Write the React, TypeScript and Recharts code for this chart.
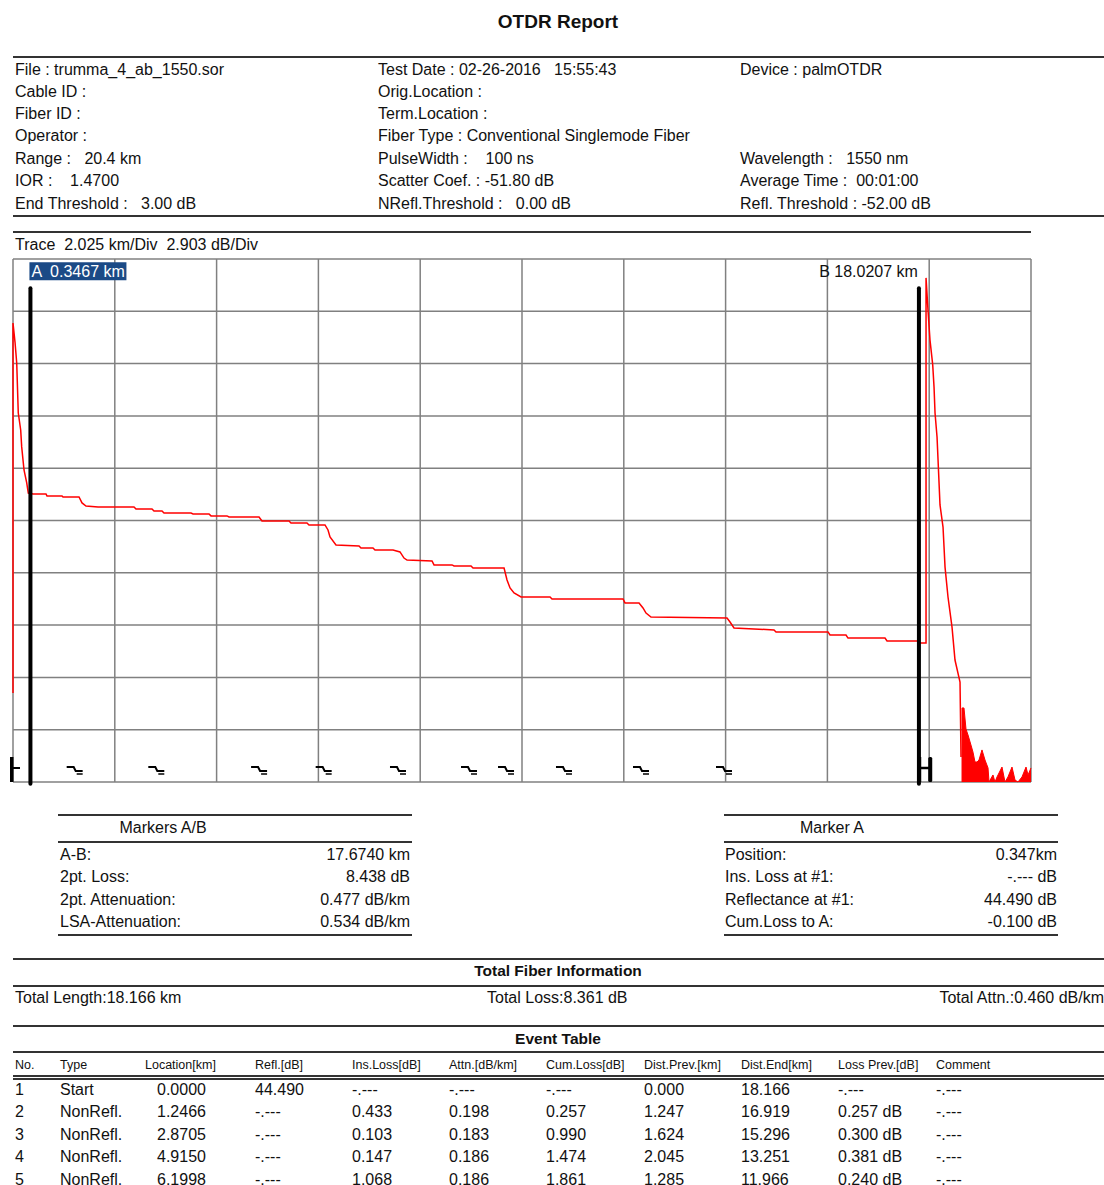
import React from 'react';
import { Area, CartesianGrid, ComposedChart, Line, ReferenceLine, Scatter, XAxis, YAxis } from 'recharts';

const FONT = '"Liberation Sans", Arial, sans-serif';

// trace: [km, dB] (2.025 km/div, 2.903 dB/div, 10 x 10 divisions)
const TRACE: [number, number][] = [
  [0, 4.94], [0, 25.48], [0.04, 24.42], [0.074, 23.26], [0.105, 20.48], [0.153, 19.54], [0.173, 18.6],
  [0.219, 17.32], [0.273, 16.6], [0.304, 16.04], [0.398, 15.99], [0.656, 15.99], [0.676, 15.88],
  [0.975, 15.88], [0.995, 15.82], [1.313, 15.82], [1.373, 15.49], [1.452, 15.32], [1.691, 15.26],
  [2.407, 15.26], [2.447, 15.15], [2.765, 15.15], [2.805, 15.04], [2.964, 15.04], [3.004, 14.93],
  [3.541, 14.93], [3.581, 14.88], [3.899, 14.88], [3.939, 14.77], [4.257, 14.77], [4.297, 14.71],
  [4.894, 14.71], [4.953, 14.49], [5.49, 14.49], [5.53, 14.38], [5.848, 14.38], [5.888, 14.27],
  [6.206, 14.27], [6.266, 13.99], [6.306, 13.6], [6.425, 13.16], [6.883, 13.1], [6.922, 12.99],
  [7.161, 12.99], [7.201, 12.88], [7.559, 12.88], [7.698, 12.77], [7.778, 12.43], [7.838, 12.32],
  [8.335, 12.27], [8.375, 12.05], [8.733, 12.05], [8.773, 11.99], [9.111, 11.99], [9.151, 11.88],
  [9.768, 11.88], [9.827, 11.21], [9.887, 10.77], [9.967, 10.49], [10.106, 10.27], [10.683, 10.27],
  [10.722, 10.16], [12.135, 10.16], [12.174, 9.94], [12.453, 9.94], [12.532, 9.66], [12.592, 9.38],
  [12.691, 9.16], [14.203, 9.1], [14.263, 8.88], [14.342, 8.55], [15.138, 8.44], [15.178, 8.33],
  [16.212, 8.33], [16.252, 8.16], [16.57, 8.16], [16.61, 7.99], [17.346, 7.99], [17.386, 7.83],
  [18.003, 7.83], [18.042, 7.72], [18.162, 7.72], [18.162, 27.98], [18.201, 26.2], [18.241, 24.53],
  [18.295, 23.15], [18.321, 21.93], [18.341, 20.48], [18.381, 19.15], [18.401, 17.87], [18.44, 15.38],
  [18.5, 14.15], [18.52, 13.04], [18.54, 11.93], [18.599, 10.27], [18.679, 8.6], [18.738, 6.77],
  [18.838, 5.55], [18.858, 1.39],
];

// noise floor after the fiber end
const NOISE: [number, number][] = [
  [18.878, 0], [18.878, 4.11], [18.917, 4.11], [18.957, 2.94], [18.997, 2.61], [19.056, 2.05],
  [19.096, 1.66], [19.136, 1.11], [19.176, 1.11], [19.215, 1.22], [19.275, 1.78], [19.335, 1.22],
  [19.395, 0.78], [19.415, 0], [19.494, 0.39], [19.534, 0], [19.574, 0.28], [19.673, 0.83],
  [19.733, 0], [19.792, 0.28], [19.872, 0.83], [19.932, 0.11], [19.991, 0], [20.071, 0.28],
  [20.151, 0.83], [20.191, 0.39], [20.25, 0.78],
];

const EVENT_KM = [0, 1.2466, 2.8705, 4.915, 6.1998, 7.678, 9.091, 9.827, 10.98, 12.512, 14.163, 18.166];
const EVENT_KIND = ['start', 'step', 'step', 'step', 'step', 'step', 'step', 'step', 'step', 'step', 'step', 'end'];

const MARKER_NAME = ['A', 'B'];
const MARKER_KM = [0.3467, 18.0207];
const MARKER_TEXT = ['A  0.3467 km', 'B 18.0207 km'];

const X_TICKS = [0, 2.025, 4.05, 6.075, 8.1, 10.125, 12.15, 14.175, 16.2, 18.225, 20.25];
const Y_TICKS = [0, 2.903, 5.806, 8.709, 11.612, 14.515, 17.418, 20.321, 23.224, 26.127, 29.03];

const INFO_ROWS = [
  ['File : trumma_4_ab_1550.sor', 'Test Date : 02-26-2016   15:55:43', 'Device : palmOTDR'],
  ['Cable ID :', 'Orig.Location :', ''],
  ['Fiber ID :', 'Term.Location :', ''],
  ['Operator :', 'Fiber Type : Conventional Singlemode Fiber', ''],
  ['Range :   20.4 km', 'PulseWidth :    100 ns', 'Wavelength :   1550 nm'],
  ['IOR :    1.4700', 'Scatter Coef. : -51.80 dB', 'Average Time :  00:01:00'],
  ['End Threshold :   3.00 dB', 'NRefl.Threshold :   0.00 dB', 'Refl. Threshold : -52.00 dB'],
];
const INFO_Y = [70, 92, 114, 136, 159, 181, 204];

const MARKERS_AB = [
  ['A-B:', '17.6740 km'],
  ['2pt. Loss:', '8.438 dB'],
  ['2pt. Attenuation:', '0.477 dB/km'],
  ['LSA-Attenuation:', '0.534 dB/km'],
];
const MARKER_A = [
  ['Position:', '0.347km'],
  ['Ins. Loss at #1:', '-.--- dB'],
  ['Reflectance at #1:', '44.490 dB'],
  ['Cum.Loss to A:', '-0.100 dB'],
];
const TABLE_Y = [855, 877, 900, 922];

const EVENT_HEAD = ['No.', 'Type', 'Location[km]', 'Refl.[dB]', 'Ins.Loss[dB]', 'Attn.[dB/km]', 'Cum.Loss[dB]', 'Dist.Prev.[km]', 'Dist.End[km]', 'Loss Prev.[dB]', 'Comment'];
const EVENT_HEAD_X = [15, 60, 145, 255, 352, 449, 546, 644, 741, 838, 936];
const EVENT_COL_X = [15, 60, 157, 255, 352, 449, 546, 644, 741, 838, 936];
const EVENT_ROWS = [
  ['1', 'Start', '0.0000', '44.490', '-.---', '-.---', '-.---', '0.000', '18.166', '-.---', '-.---'],
  ['2', 'NonRefl.', '1.2466', '-.---', '0.433', '0.198', '0.257', '1.247', '16.919', '0.257 dB', '-.---'],
  ['3', 'NonRefl.', '2.8705', '-.---', '0.103', '0.183', '0.990', '1.624', '15.296', '0.300 dB', '-.---'],
  ['4', 'NonRefl.', '4.9150', '-.---', '0.147', '0.186', '1.474', '2.045', '13.251', '0.381 dB', '-.---'],
  ['5', 'NonRefl.', '6.1998', '-.---', '1.068', '0.186', '1.861', '1.285', '11.966', '0.240 dB', '-.---'],
];
const EVENT_ROW_Y = [1090, 1112, 1135, 1157, 1180];

const traceData = TRACE.map(([km, db]) => ({ km, db }));
const noiseData = NOISE.map(([km, db]) => ({ km, db }));
const eventData = EVENT_KM.map((km, i) => ({ km, db: 0, kind: EVENT_KIND[i] }));
const markerData = MARKER_KM.map((km, i) => ({ km, db: 28.35, name: MARKER_NAME[i], text: MARKER_TEXT[i] }));

function Txt({ x, y, children, size = 16, bold = false, align = 'left' }: any) {
  const style: React.CSSProperties = {
    position: 'absolute',
    top: y - size * 0.62,
    fontSize: size,
    lineHeight: `${Math.round(size * 1.24)}px`,
    fontWeight: bold ? 'bold' : 'normal',
    whiteSpace: 'pre',
    color: '#111',
  };
  if (align === 'right') style.right = 1104 - x;
  else if (align === 'center') {
    style.left = x - 300;
    style.width = 600;
    style.textAlign = 'center';
  } else style.left = x;
  return <div style={style}>{children}</div>;
}

function HLine({ x1, x2, y, h = 1.5, color = '#333' }: any) {
  return <div style={{ position: 'absolute', left: x1, top: y - h / 2, width: x2 - x1, height: h, background: color }} />;
}

function EventShape(props: any) {
  const { cx, cy, payload } = props;
  if (payload.kind === 'start') {
    return (
      <g>
        <rect x={cx - 3} y={cy - 25} width={3.5} height={25} fill="#000" />
        <line x1={cx} x2={cx + 7} y1={cy - 14} y2={cy - 14} stroke="#000" strokeWidth={2} />
      </g>
    );
  }
  if (payload.kind === 'end') {
    return (
      <g>
        <rect x={cx - 8} y={cy - 25} width={3} height={25} fill="#000" />
        <rect x={cx + 2} y={cy - 25} width={4} height={25} rx={1.5} fill="#000" />
        <line x1={cx - 6} x2={cx + 3} y1={cy - 14} y2={cy - 14} stroke="#000" strokeWidth={2.5} />
      </g>
    );
  }
  return (
    <g fill="none" stroke="#000">
      <path d={`M${cx - 9},${cy - 15} H${cx - 2} L${cx},${cy - 11} H${cx + 7}`} strokeWidth={2} />
      <path d={`M${cx + 1},${cy - 8} H${cx + 7}`} strokeWidth={1.5} />
    </g>
  );
}

function MarkerLabel(props: any) {
  const { cx, cy, payload } = props;
  if (payload.name === 'A') {
    return (
      <g>
        <rect x={cx - 1} y={cy - 9} width={97} height={18} fill="#1b4a86" />
        <text x={cx + 1} y={cy + 5.5} fill="#fff" fontSize={16} fontFamily={FONT} style={{ whiteSpace: 'pre' }}>
          {payload.text}
        </text>
      </g>
    );
  }
  return (
    <text x={cx - 1} y={cy + 5.5} fill="#111" fontSize={16} fontFamily={FONT} textAnchor="end" style={{ whiteSpace: 'pre' }}>
      {payload.text}
    </text>
  );
}

export default function App() {
  return (
    <div style={{ position: 'absolute', left: 0, top: 0, width: 1104, height: 1185, overflow: 'hidden', background: '#fff', fontFamily: FONT }}>
      <style>{'.recharts-surface{overflow:visible}'}</style>
      <Txt x={558} y={22} size={19} bold align="center">OTDR Report</Txt>
      <HLine x1={13} x2={1104} y={57} h={2} />

      {INFO_ROWS.map((row, i) => (
        <React.Fragment key={i}>
          <Txt x={15} y={INFO_Y[i]}>{row[0]}</Txt>
          <Txt x={378} y={INFO_Y[i]}>{row[1]}</Txt>
          <Txt x={740} y={INFO_Y[i]}>{row[2]}</Txt>
        </React.Fragment>
      ))}
      <HLine x1={13} x2={1104} y={216} h={2} />
      <HLine x1={13} x2={1031} y={232} h={1.5} />
      <Txt x={15} y={245}>{'Trace  2.025 km/Div  2.903 dB/Div'}</Txt>

      <div style={{ position: 'absolute', left: 13, top: 259 }}>
        <ComposedChart width={1018} height={523} margin={{ top: 0, right: 0, bottom: 0, left: 0 }}>
          <XAxis type="number" dataKey="km" domain={[0, 20.25]} ticks={X_TICKS} hide />
          <YAxis type="number" dataKey="db" domain={[0, 29.03]} ticks={Y_TICKS} hide />
          <CartesianGrid stroke="#808080" strokeWidth={1.5} />
          <Area data={noiseData} dataKey="db" type="linear" stroke="#ff0000" strokeWidth={1} fill="#ff0000" fillOpacity={1} isAnimationActive={false} />
          <Line data={traceData} dataKey="db" type="linear" stroke="#ff0000" strokeWidth={1.5} dot={false} isAnimationActive={false} />
          <Scatter data={eventData} dataKey="db" shape={EventShape} isAnimationActive={false} />
          {MARKER_KM.map((km) => (
            <ReferenceLine
              key={km}
              segment={[{ x: km, y: -0.1 }, { x: km, y: 27.4 }]}
              stroke="#000"
              strokeWidth={4}
              strokeLinecap="round"
              ifOverflow="visible"
            />
          ))}
          <Scatter data={markerData} dataKey="db" shape={MarkerLabel} isAnimationActive={false} />
        </ComposedChart>
      </div>

      <HLine x1={58} x2={412} y={815} />
      <Txt x={163} y={828} align="center">Markers A/B</Txt>
      <HLine x1={58} x2={412} y={842} />
      {MARKERS_AB.map((r, i) => (
        <React.Fragment key={i}>
          <Txt x={60} y={TABLE_Y[i]}>{r[0]}</Txt>
          <Txt x={410} y={TABLE_Y[i]} align="right">{r[1]}</Txt>
        </React.Fragment>
      ))}
      <HLine x1={58} x2={412} y={935} />

      <HLine x1={724} x2={1058} y={815} />
      <Txt x={832} y={828} align="center">Marker A</Txt>
      <HLine x1={724} x2={1058} y={842} />
      {MARKER_A.map((r, i) => (
        <React.Fragment key={i}>
          <Txt x={725} y={TABLE_Y[i]}>{r[0]}</Txt>
          <Txt x={1057} y={TABLE_Y[i]} align="right">{r[1]}</Txt>
        </React.Fragment>
      ))}
      <HLine x1={724} x2={1058} y={935} />

      <HLine x1={13} x2={1104} y={959} h={2} />
      <Txt x={558} y={971} size={15.5} bold align="center">Total Fiber Information</Txt>
      <HLine x1={13} x2={1104} y={986} h={2} />
      <Txt x={15} y={998}>Total Length:18.166 km</Txt>
      <Txt x={487} y={998}>Total Loss:8.361 dB</Txt>
      <Txt x={1104} y={998} align="right">Total Attn.:0.460 dB/km</Txt>
      <HLine x1={13} x2={1104} y={1026} h={2} />
      <Txt x={558} y={1039} size={15.5} bold align="center">Event Table</Txt>
      <HLine x1={13} x2={1104} y={1052} h={2} />
      {EVENT_HEAD.map((h, i) => (
        <Txt key={h} x={EVENT_HEAD_X[i]} y={1065} size={12.5}>{h}</Txt>
      ))}
      <HLine x1={13} x2={1104} y={1076} h={1.5} />
      <HLine x1={13} x2={1104} y={1079} h={1.5} />
      {EVENT_ROWS.map((row, r) =>
        row.map((cell, c) => (
          <Txt key={`${r}-${c}`} x={EVENT_COL_X[c]} y={EVENT_ROW_Y[r]}>{cell}</Txt>
        ))
      )}
    </div>
  );
}
